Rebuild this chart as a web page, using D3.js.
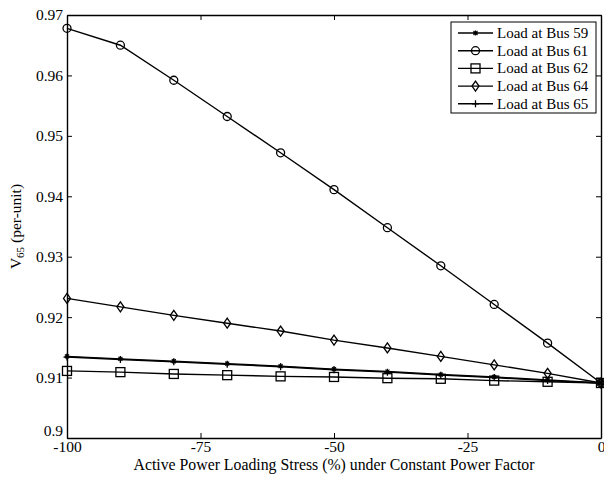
<!DOCTYPE html>
<html><head><meta charset="utf-8">
<script src="https://cdn.jsdelivr.net/npm/d3@7"></script>
<style>body{margin:0;background:#fff}svg{display:block}text{font-family:"Liberation Serif","Times New Roman",serif;fill:#000}</style>
</head><body><svg id="c" width="604" height="477"></svg>
<script>
const xValues = [-100, -90, -80, -70, -60, -50, -40, -30, -20, -10, 0];
const bus59 = [0.9135, 0.9131, 0.9127, 0.9123, 0.9119, 0.9114, 0.9110, 0.9105, 0.9101, 0.9096, 0.9091];
const bus61 = [0.9678, 0.9650, 0.9592, 0.9532, 0.9472, 0.9411, 0.9348, 0.9285, 0.9221, 0.9157, 0.9091];
const bus62 = [0.9111, 0.9109, 0.9106, 0.9104, 0.9102, 0.9101, 0.9099, 0.9098, 0.9095, 0.9093, 0.9091];
const bus64 = [0.9231, 0.9217, 0.9203, 0.9190, 0.9177, 0.9162, 0.9149, 0.9135, 0.9121, 0.9107, 0.9091];
const bus65 = [0.9134, 0.9130, 0.9126, 0.9122, 0.9118, 0.9113, 0.9109, 0.9104, 0.9100, 0.9095, 0.9091];
const seriesNames = ["Load at Bus 59", "Load at Bus 61", "Load at Bus 62", "Load at Bus 64", "Load at Bus 65"];
const seriesMarkers = ["asterisk", "circle", "square", "diamond", "plus"];
const xTicks = [-100, -75, -50, -25, 0];
const yTicks = [0.9, 0.91, 0.92, 0.93, 0.94, 0.95, 0.96, 0.97];

const series = [bus59, bus61, bus62, bus64, bus65].map((v, i) => ({name: seriesNames[i], marker: seriesMarkers[i], values: v}));

const L = 67, R = 601, T = 15, B = 438;
const x = d3.scaleLinear().domain([-100, 0]).range([L, R]);
const y = d3.scaleLinear().domain([0.9, 0.97]).range([B, T]);
const svg = d3.select("#c");

function drawMarker(g, type, cx, cy) {
  const s = g.append("g").attr("transform", `translate(${cx},${cy})`)
    .attr("fill", "none").attr("stroke", "#000").attr("stroke-width", 1.3);
  if (type === "circle") s.append("circle").attr("r", 4);
  else if (type === "square") s.append("rect").attr("x", -4.5).attr("y", -4.5).attr("width", 9).attr("height", 9);
  else if (type === "diamond") s.append("path").attr("d", "M0,-5L3.5,0L0,5L-3.5,0Z");
  else if (type === "plus") s.append("path").attr("d", "M-3.5,0H3.5M0,-3.5V3.5");
  else if (type === "asterisk") s.append("path").attr("d", "M-2.5,0H2.5M0,-2.5V2.5M-2,-2L2,2M-2,2L2,-2").attr("stroke-width", 1.1);
}

// axes (box with inward ticks)
const axG = svg.append("g");
axG.append("g").attr("transform", `translate(0,${B})`)
  .call(d3.axisBottom(x).tickValues(xTicks).tickSizeInner(-5).tickSizeOuter(0).tickPadding(3).tickFormat(d => String(d)));
axG.append("g").attr("transform", `translate(0,${T})`)
  .call(d3.axisTop(x).tickValues(xTicks).tickSizeInner(-5).tickSizeOuter(0).tickFormat(""));
axG.append("g").attr("transform", `translate(${L},0)`)
  .call(d3.axisLeft(y).tickValues(yTicks).tickSizeInner(-5).tickSizeOuter(0).tickPadding(4).tickFormat(d => String(+d.toFixed(2))));
axG.append("g").attr("transform", `translate(${R},0)`)
  .call(d3.axisRight(y).tickValues(yTicks).tickSizeInner(-5).tickSizeOuter(0).tickFormat(""));
axG.selectAll(".domain").attr("stroke", "#000").attr("stroke-width", 1.4);
axG.selectAll(".tick line").attr("stroke", "#000");
axG.selectAll(".tick text").style("font-family", '"Liberation Serif",serif').style("font-size", "15.5px").attr("fill", "#000");
// lift the bottom-most y label as in the reference
axG.selectAll(".tick text").filter(d => d === 0.9).attr("dy", "-0.15em");

// lines
const line = d3.line().x((d, i) => x(xValues[i])).y(d => y(d));
const plot = svg.append("g");
series.forEach(s => {
  plot.append("path").datum(s.values).attr("d", line).attr("fill", "none").attr("stroke", "#000").attr("stroke-width", 1.4);
  s.values.forEach((v, i) => drawMarker(plot, s.marker, x(xValues[i]), y(v)));
});

// legend
const lg = svg.append("g");
lg.append("rect").attr("x", 451).attr("y", 22).attr("width", 145).attr("height", 91)
  .attr("fill", "#fff").attr("stroke", "#000").attr("stroke-width", 1);
series.forEach((s, i) => {
  const yy = 33 + i * 17.7;
  lg.append("line").attr("x1", 458).attr("x2", 493).attr("y1", yy).attr("y2", yy).attr("stroke", "#000").attr("stroke-width", 1.4);
  drawMarker(lg, s.marker, 475.5, yy);
  lg.append("text").attr("x", 497).attr("y", yy + 5).style("font-size", "15px").text(s.name);
});

// axis labels
svg.append("text").attr("x", (L + R) / 2).attr("y", 470).attr("text-anchor", "middle").style("font-size", "15.8px")
  .text("Active Power Loading Stress (%) under Constant Power Factor");
const yl = svg.append("text").attr("transform", `translate(21,${(T + B) / 2}) rotate(-90)`).attr("text-anchor", "middle").style("font-size", "15.5px");
yl.append("tspan").text("V");
yl.append("tspan").attr("dy", 3).style("font-size", "11px").text("65");
yl.append("tspan").attr("dy", -3).text(" (per-unit)");
</script></body></html>
